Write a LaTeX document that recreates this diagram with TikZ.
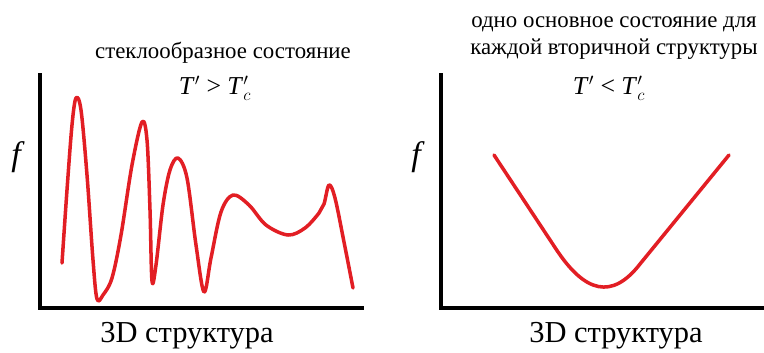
\documentclass[tikz,border=0pt]{standalone}
\usepackage{fontspec}
\setmainfont{Liberation Serif}
\usetikzlibrary{calc}
\definecolor{curvered}{RGB}{226,30,36}

\begin{document}
\begin{tikzpicture}[x=0.03cm, y=-0.03cm,
    axis/.style={line width=3.4pt, line cap=rect},
    curve/.style={curvered, line width=3pt, line cap=round, line join=round},
    title/.style={font=\fontsize{19.5}{23}\selectfont, align=center},
    cond/.style={font=\fontsize{22}{24}\selectfont},
    xlab/.style={font=\fontsize{26}{28}\selectfont},
    ylab/.style={font=\fontsize{29}{30}\selectfont\itshape}]

    \useasboundingbox (0,0) rectangle (764,352);

    % 1. Axes of the left panel (glassy state)
    \coordinate (LO) at (40,308);
    \coordinate (LY) at (40,75);
    \coordinate (LX) at (362,308);
    \draw[axis] (LY) -- (LO) -- (LX);

    % 2. Axes of the right panel (one ground state)
    \coordinate (RO) at (441,308);
    \coordinate (RY) at (441,75);
    \coordinate (RX) at (762,308);
    \draw[axis] (RY) -- (RO) -- (RX);

    % 3. Rugged landscape with many minima
    \draw[curve] plot[smooth, tension=0.55] coordinates {
        (62,263) (67,190) (72,125) (76,98) (81,110) (87,175) (93,260) (97,299)
        (103,295) (112,278) (121,235) (132,165) (142,122) (147,140) (150,210)
        (152,281) (156,265) (163,205) (170,170) (178,158) (187,178) (196,245)
        (204,292) (211,258) (221,212) (233,195) (249,205) (266,225) (288,235)
        (305,228) (319,213) (324,204) (329,185) (335,198) (344,242) (353,288)};

    % 4. Funnel with a single minimum
    \coordinate (fl) at (494,155);
    \coordinate (fr) at (729,155);
    \draw[curve] (fl) -- (556,249) .. controls (585,293) and (612,300) .. (640,264) -- (fr);

    % 5. Labels of the left panel
    \node[title] (ltitle) at (223,53) {стеклообразное состояние};
    \node[cond] (lcond) at (215,88) {\textit{T}$^{\prime}$ > \textit{T}$_{c}^{\prime}$};
    \node[ylab] (lf) at (16,157) {f};
    \node[xlab] (lx) at (187,336) {3D структура};

    % 6. Labels of the right panel
    \node[title] (rtitle) at (614,38) {одно основное состояние для\\каждой вторичной структуры};
    \node[cond] (rcond) at (609,88) {\textit{T}$^{\prime}$ < \textit{T}$_{c}^{\prime}$};
    \node[ylab] (rf) at (416,157) {f};
    \node[xlab] (rx) at (616,336) {3D структура};

\end{tikzpicture}
\end{document}
